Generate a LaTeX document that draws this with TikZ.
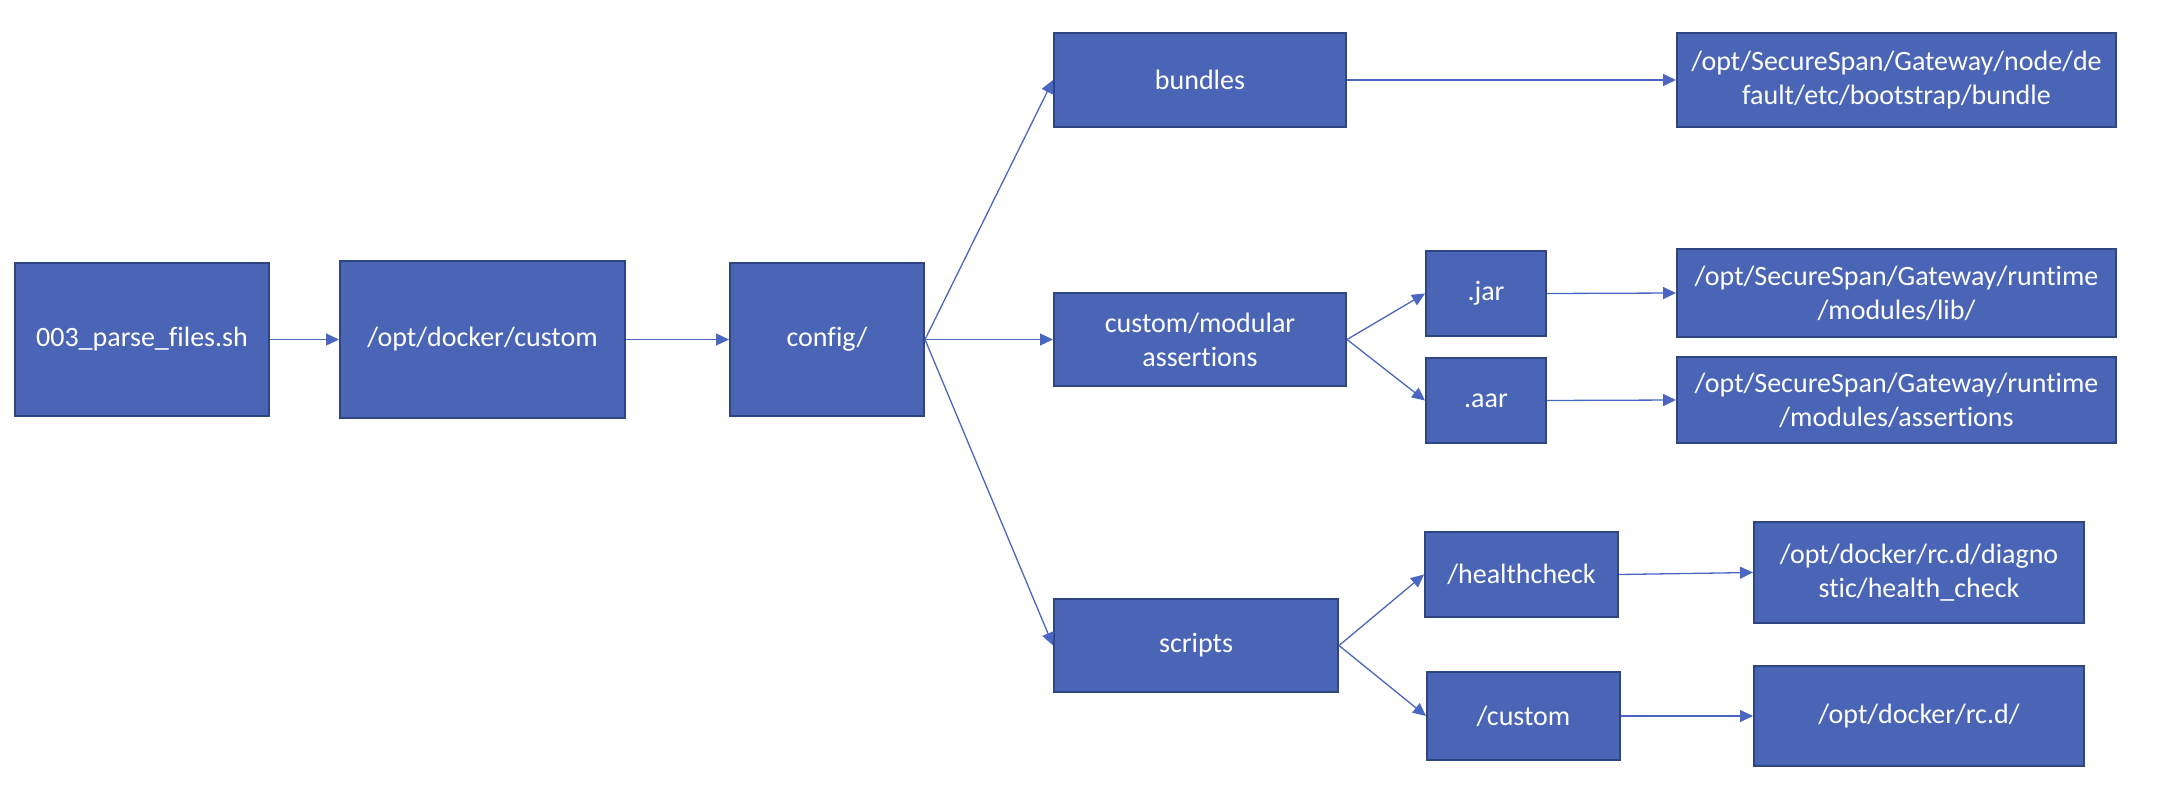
\documentclass[tikz,border=0pt]{standalone}
\usepackage{fontspec}
\setmainfont{Carlito}[Ligatures=NoCommon]
\usetikzlibrary{arrows.meta}
\definecolor{boxfill}{HTML}{4A65B6}
\definecolor{boxedge}{HTML}{2F4582}
\definecolor{wire}{HTML}{4A66C0}
\begin{document}
\begin{tikzpicture}[x=1pt,y=-1pt,
  box/.style={draw=boxedge, line width=2pt, fill=boxfill, text=white, inner sep=0pt,
    align=center, font=\fontsize{28}{34}\selectfont},
  link/.style={draw=wire, line width=1.3pt, -{Triangle[length=13pt,width=12pt]}}]
\useasboundingbox (0,0) rectangle (2160,790);
% first column of the chain
\node[box, minimum width=254pt, minimum height=153pt] (parse) at (142,339.5) {003\_parse\_files.sh};
\node[box, minimum width=285pt, minimum height=157pt] (dockcustom) at (482.5,339.5) {/opt/docker/custom};
\node[box, minimum width=194pt, minimum height=153pt] (config) at (827,339.5) {config/};
% config sub folders
\node[box, minimum width=292pt, minimum height=94pt] (bundles) at (1200,80) {bundles};
\node[box, minimum width=292pt, minimum height=93pt] (modular) at (1200,339.5) {custom/modular\\assertions};
\node[box, minimum width=284pt, minimum height=93pt] (scripts) at (1196,645.5) {scripts};
% file kinds
\node[box, minimum width=120pt, minimum height=85pt] (jar) at (1486,293.5) {.jar};
\node[box, minimum width=120pt, minimum height=85pt] (aar) at (1486,400.5) {.aar};
\node[box, minimum width=193pt, minimum height=85pt] (health) at (1521.5,574.5) {/healthcheck};
\node[box, minimum width=193pt, minimum height=88pt] (custom) at (1523.5,716) {/custom};
% destinations
\node[box, minimum width=439pt, minimum height=94pt] (bundleT) at (1896.5,80) {/opt/SecureSpan/Gateway/node/de\\fault/etc/bootstrap/bundle};
\node[box, minimum width=439pt, minimum height=88pt] (jarT) at (1896.5,293) {/opt/SecureSpan/Gateway/runtime\\/modules/lib/};
\node[box, minimum width=439pt, minimum height=86pt] (aarT) at (1896.5,400) {/opt/SecureSpan/Gateway/runtime\\/modules/assertions};
\node[box, minimum width=330pt, minimum height=101pt] (diagT) at (1919,572.5) {/opt/docker/rc.d/diagno\\stic/health\_check};
\node[box, minimum width=330pt, minimum height=100pt] (rcT) at (1919,716) {/opt/docker/rc.d/};
% connectors
\draw[link] (parse.east) -- (dockcustom.west);
\draw[link] (dockcustom.east) -- (config.west);
\draw[link] (config.east) -- (bundles.west);
\draw[link] (config.east) -- (modular.west);
\draw[link] (config.east) -- (scripts.west);
\draw[link] (bundles.east) -- (bundleT.west);
\draw[link] (modular.east) -- (jar.west);
\draw[link] (modular.east) -- (aar.west);
\draw[link] (jar.east) -- (jarT.west);
\draw[link] (aar.east) -- (aarT.west);
\draw[link] (scripts.east) -- (health.west);
\draw[link] (scripts.east) -- (custom.west);
\draw[link] (health.east) -- (diagT.west);
\draw[link] (custom.east) -- (rcT.west);
\end{tikzpicture}
\end{document}
